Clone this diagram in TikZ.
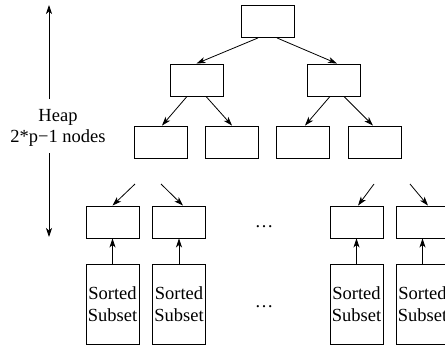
\documentclass[tikz,border=0pt]{standalone}
\usepackage{fontspec}
\setmainfont{Liberation Serif}
\usetikzlibrary{arrows.meta}
\begin{document}
\begin{tikzpicture}[x=1pt,y=-1pt,
        every node/.style={font=\fontsize{18.5}{21.5}\selectfont},
        heapnode/.style={draw,line width=0.9pt,minimum width=53pt,minimum height=32pt,inner sep=0pt},
        subsetnode/.style={heapnode,minimum height=80pt,align=center},
        arr/.style={line width=0.8pt,-{Stealth[length=9pt,width=6pt,inset=2.5pt]}}]
        \useasboundingbox (0,0) rectangle (445,348);
        % heap levels
        \node[heapnode] (root) at (267.5,21.5) {};
        \node[heapnode] (la) at (196.5,80) {};
        \node[heapnode] (lb) at (334,80) {};
        \node[heapnode] (laa) at (160.5,142) {};
        \node[heapnode] (lab) at (232,142) {};
        \node[heapnode] (lba) at (303,142) {};
        \node[heapnode] (lbb) at (374.5,142) {};
        \draw[arr] ([xshift=-9.5pt]root.south) -- (la.north);
        \draw[arr] ([xshift=9.5pt]root.south) -- ([xshift=3pt]lb.north);
        \draw[arr] ([xshift=-9.5pt]la.south) -- ([xshift=1.5pt]laa.north);
        \draw[arr] ([xshift=9.5pt]la.south) -- (lab.north);
        \draw[arr] ([xshift=-4pt]lb.south) -- ([xshift=2pt]lba.north);
        \draw[arr] ([xshift=10pt]lb.south) -- ([xshift=-1.5pt]lbb.north);
        % leaves and sorted subsets
        \node[heapnode] (f1) at (112.5,222) {};
        \node[heapnode] (f2) at (179,222) {};
        \node[heapnode] (f3) at (356.5,222) {};
        \node[heapnode] (f4) at (422.5,222) {};
        \node[subsetnode] (s1) at (112.5,304) {Sorted\\Subset};
        \node[subsetnode] (s2) at (179,304) {Sorted\\Subset};
        \node[subsetnode] (s3) at (356.5,304) {Sorted\\Subset};
        \node[subsetnode] (s4) at (422.5,304) {Sorted\\Subset};
        \coordinate (in1) at (135,184);
        \coordinate (in2) at (161,184);
        \coordinate (in3) at (374,184);
        \coordinate (in4) at (410,184);
        \draw[arr] (in1) -- (f1.north);
        \draw[arr] (in2) -- ([xshift=4pt]f2.north);
        \draw[arr] (in3) -- ([xshift=1.5pt]f3.north);
        \draw[arr] (in4) -- ([xshift=5.5pt]f4.north);
        \draw[arr] (s1) -- (f1);
        \draw[arr] (s2) -- (f2);
        \draw[arr] (s3) -- (f3);
        \draw[arr] (s4) -- (f4);
        \node (dotsa) at (264,227) {…};
        \node (dotsb) at (264,307) {…};
        % height of the heap
        \node[align=center] (heap) at (58,128) {Heap\\2*p−1 nodes};
        \coordinate (upfrom) at (49,99);
        \coordinate (uptip) at (49,5);
        \coordinate (downfrom) at (49,153);
        \coordinate (downtip) at (49,237);
        \draw[arr] (upfrom) -- (uptip);
        \draw[arr] (downfrom) -- (downtip);
\end{tikzpicture}
\end{document}
